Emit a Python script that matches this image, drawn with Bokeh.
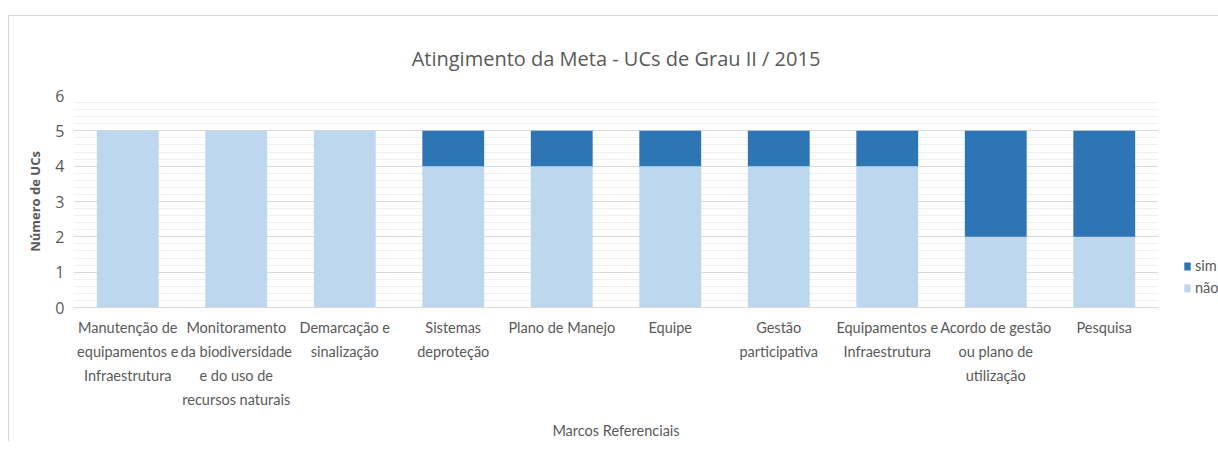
from bokeh.plotting import figure
from bokeh.models import (ColumnDataSource, Legend, LegendItem, FixedTicker,
                          SingleIntervalTicker, Range1d, LinearAxis)
from bokeh.embed import file_html
from bokeh.resources import INLINE

categories = [
    "Manutenção de equipamentos e Infraestrutura",
    "Monitoramento da biodiversidade e do uso de recursos naturais",
    "Demarcação e sinalização",
    "Sistemas deproteção",
    "Plano de Manejo",
    "Equipe",
    "Gestão participativa",
    "Equipamentos e Infraestrutura",
    "Acordo de gestão ou plano de utilização",
    "Pesquisa",
]
tick_labels = [
    "Manutenção de\nequipamentos e\nInfraestrutura",
    "Monitoramento\nda biodiversidade\ne do uso de\nrecursos naturais",
    "Demarcação e\nsinalização",
    "Sistemas\ndeproteção",
    "Plano de Manejo",
    "Equipe",
    "Gestão\nparticipativa",
    "Equipamentos e\nInfraestrutura",
    "Acordo de gestão\nou plano de\nutilização",
    "Pesquisa",
]
nao = [5, 5, 5, 4, 4, 4, 4, 4, 2, 2]
sim = [0, 0, 0, 1, 1, 1, 1, 1, 3, 3]
series = ["nao", "sim"]
series_labels = ["não", "sim"]
colors = ["#BDD7EE", "#2E75B6"]

pos = list(range(len(categories)))
source = ColumnDataSource(dict(x=pos, cat=categories, nao=nao, sim=sim))

TXT = "#595959"
FONT = "Lato"
XFS = "14.5px"

p = figure(
    x_range=Range1d(-0.5, len(categories) - 0.5),
    y_range=Range1d(0, 6),
    frame_width=1085, frame_height=212,
    output_backend="svg", toolbar_location=None,
    min_border_left=64, min_border_top=79, min_border_right=61, min_border_bottom=10,
)
p.styles = {"margin-top": "15px", "margin-left": "8px",
            "border-left": "1px solid #d9d9d9", "border-top": "1px solid #d9d9d9"}
p.outline_line_color = None

renderers = p.vbar_stack(series, x="x", width=0.57, color=colors, source=source,
                         line_color=None)

p.title.text = "Atingimento da Meta - UCs de Grau II / 2015"
p.title.align = "center"
p.title.text_font = "Open Sans"
p.title.text_font_size = "20px"
p.title.text_font_style = "normal"
p.title.text_color = TXT
p.title.standoff = 48

# y axis
p.yaxis.ticker = SingleIntervalTicker(interval=1, num_minor_ticks=5)
p.yaxis.axis_line_color = None
p.yaxis.major_tick_line_color = None
p.yaxis.minor_tick_line_color = None
p.yaxis.major_tick_out = 0
p.yaxis.minor_tick_out = 0
p.yaxis.major_label_text_font = "Open Sans"
p.yaxis.major_label_text_font_size = "16px"
p.yaxis.major_label_text_color = TXT
p.yaxis.major_label_standoff = 9
p.yaxis.axis_label = "Número de UCs"
p.yaxis.axis_label_text_font = "Open Sans"
p.yaxis.axis_label_text_font_size = "13px"
p.yaxis.axis_label_text_font_style = "bold"
p.yaxis.axis_label_text_color = TXT
p.yaxis.axis_label_standoff = 8

# x axes: one stacked axis per line of the wrapped category labels
split = [t.split("\n") for t in tick_labels]
n_lines = max(len(s) for s in split)
xaxes = [p.xaxis[0]]
for k in range(1, n_lines):
    ax = LinearAxis()
    p.add_layout(ax, "below")
    xaxes.append(ax)
for k, ax in enumerate(xaxes):
    ax.ticker = FixedTicker(ticks=pos, minor_ticks=[])
    ax.major_label_overrides = {
        i: (split[i][k] if k < len(split[i]) else " ") for i in pos
    }
    ax.major_tick_line_color = None
    ax.minor_tick_line_color = None
    ax.major_tick_out = 0
    ax.major_tick_in = 0
    ax.minor_tick_out = 0
    ax.major_label_text_font = FONT
    ax.major_label_text_font_size = XFS
    ax.major_label_text_color = TXT
    ax.major_label_standoff = 11 if k == 0 else 4
    ax.axis_line_color = "#d9d9d9" if k == 0 else None
    ax.major_label_orientation = "horizontal"
last = xaxes[-1]
last.axis_label = "Marcos Referenciais"
last.axis_label_text_font = FONT
last.axis_label_text_font_size = XFS
last.axis_label_text_font_style = "normal"
last.axis_label_text_color = TXT
last.axis_label_standoff = 11

# grid
p.xgrid.grid_line_color = None
p.ygrid.grid_line_color = "#d9d9d9"
p.ygrid.minor_grid_line_color = "#f0f0f0"

legend = Legend(
    items=[LegendItem(label=series_labels[1], renderers=[renderers[1]]),
           LegendItem(label=series_labels[0], renderers=[renderers[0]])],
    location=(25, 11),
    margin=0, padding=0,
    glyph_width=8, glyph_height=10,
    label_height=12, spacing=5, label_standoff=4,
    label_text_font=FONT, label_text_font_size=XFS, label_text_color=TXT,
    border_line_color=None, background_fill_alpha=0,
)
p.add_layout(legend, "right")

open("out.html", "w").write(file_html(p, INLINE))
